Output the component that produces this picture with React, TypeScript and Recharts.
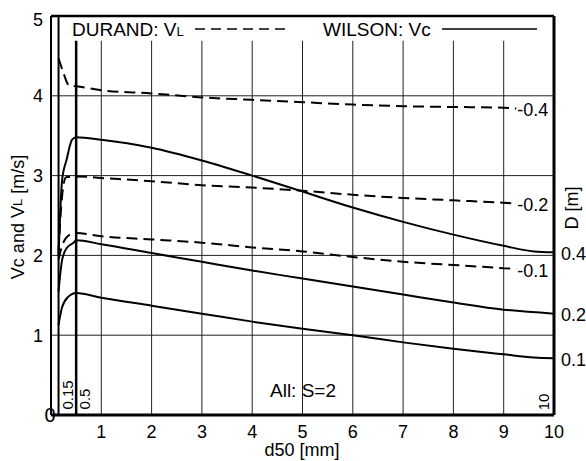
import React from "react";
import { LineChart, Line, XAxis, YAxis, ReferenceLine } from "recharts";

// ---- data ----
const xTicks = [1, 2, 3, 4, 5, 6, 7, 8, 9, 10];
const yTicks = [0, 1, 2, 3, 4, 5];
const gridX = [1, 2, 3, 4, 5, 6, 7, 8, 9];
const gridY = [1, 2, 3, 4];

// Wilson Vc (solid)
const wilsonX04 = [0.15, 0.22, 0.31, 0.42, 0.5, 1, 2, 3, 4, 5, 6, 7, 8, 9, 9.6, 10];
const wilsonY04 = [2.0, 2.94, 3.2, 3.45, 3.48, 3.45, 3.35, 3.19, 3.0, 2.8, 2.6, 2.42, 2.26, 2.12, 2.05, 2.04];
const wilsonX02 = [0.15, 0.22, 0.31, 0.45, 0.5, 1, 2, 3, 4, 5, 6, 7, 8, 9, 10];
const wilsonY02 = [1.55, 1.94, 2.09, 2.16, 2.19, 2.14, 2.03, 1.92, 1.81, 1.71, 1.61, 1.51, 1.41, 1.32, 1.27];
const wilsonX01 = [0.15, 0.22, 0.34, 0.5, 1, 2, 3, 4, 5, 6, 7, 8, 9, 9.6, 10];
const wilsonY01 = [1.13, 1.35, 1.48, 1.53, 1.47, 1.37, 1.27, 1.17, 1.08, 1.0, 0.91, 0.83, 0.76, 0.72, 0.71];

// Durand VL (dashed)
const durandX04 = [0.15, 0.24, 0.36, 0.5, 1, 2, 3, 4, 5, 6, 7, 8, 9, 9.25];
const durandY04 = [4.47, 4.3, 4.13, 4.12, 4.07, 4.03, 3.98, 3.95, 3.92, 3.89, 3.87, 3.86, 3.85, 3.84];
const durandX02 = [0.15, 0.19, 0.24, 0.3, 0.5, 1, 2, 3, 4, 5, 6, 7, 8, 9, 9.25];
const durandY02 = [2.05, 2.5, 2.85, 2.98, 2.99, 2.97, 2.93, 2.88, 2.85, 2.81, 2.76, 2.72, 2.69, 2.66, 2.65];
const durandX01 = [0.15, 0.22, 0.3, 0.42, 0.5, 1, 2, 3, 4, 5, 6, 7, 8, 9, 9.25];
const durandY01 = [1.95, 2.12, 2.22, 2.27, 2.28, 2.24, 2.2, 2.16, 2.1, 2.05, 1.98, 1.92, 1.88, 1.84, 1.83];

const diameters = ["0.4", "0.2", "0.1"];
const specialLines = [0.15, 0.5];

const toPts = (xs: number[], ys: number[]) => xs.map((x, i) => ({ x, y: ys[i] }));

const FONT = "'Liberation Sans', Arial, Helvetica, sans-serif";

const endLabel = (text: string, n: number, dx: number) => (props: any) => {
  const { x, y, index } = props;
  if (index !== n - 1) return null;
  return (
    <text x={x + dx} y={y + 3} fontSize={18} fontFamily={FONT} fill="#000" dominantBaseline="middle">
      {text}
    </text>
  );
};

const YTick = (props: any) => {
  const { x, y, payload } = props;
  let tx = x;
  let ty = y;
  let anchor = "end";
  let fs = 18;
  if (payload.value === 0) {
    tx = x + 7;
    anchor = "middle";
    fs = 20;
  }
  if (payload.value === 5) ty = y + 4;
  return (
    <text x={tx} y={ty} dy="0.355em" textAnchor={anchor} fontSize={fs} fontFamily={FONT} fill="#000">
      {payload.value}
    </text>
  );
};

const vertLabel = (text: string, dx: number, dyFromBottom: number) => (props: any) => {
  const vb = props.viewBox || {};
  const cx = vb.x + dx;
  const cy = vb.y + vb.height - dyFromBottom;
  return (
    <text
      x={cx}
      y={cy}
      transform={`rotate(-90 ${cx} ${cy})`}
      textAnchor="middle"
      dominantBaseline="middle"
      fontSize={15}
      fontFamily={FONT}
      fill="#000"
    >
      {text}
    </text>
  );
};

export default function App() {
  const wilson = [toPts(wilsonX04, wilsonY04), toPts(wilsonX02, wilsonY02), toPts(wilsonX01, wilsonY01)];
  const durand = [toPts(durandX04, durandY04), toPts(durandX02, durandY02), toPts(durandX01, durandY01)];
  const gridTop = 4.69;
  return (
    <div style={{ position: "absolute", left: 0, top: 0, width: 586, height: 461, background: "#fff" }}>
      <LineChart width={586} height={461} margin={{ top: 16, right: 32, bottom: 0, left: 0 }}>
        <XAxis
          type="number"
          dataKey="x"
          domain={[0, 10]}
          ticks={xTicks}
          allowDataOverflow
          height={46}
          tickLine={false}
          axisLine={false}
          tickMargin={4}
          tick={{ fontSize: 18, fontFamily: FONT, fill: "#000" }}
        />
        <YAxis
          type="number"
          dataKey="y"
          domain={[0, 5]}
          ticks={yTicks}
          width={51}
          allowDataOverflow
          tickLine={false}
          axisLine={false}
          tick={<YTick />}
        />
        {gridY.map((v) => (
          <ReferenceLine key={"gy" + v} y={v} stroke="#222" strokeWidth={1} />
        ))}
        {gridX.map((v) => (
          <ReferenceLine
            key={"gx" + v}
            segment={[{ x: v, y: 0 }, { x: v, y: gridTop }]}
            stroke="#222"
            strokeWidth={1}
          />
        ))}
        {/* frame */}
        <ReferenceLine y={5} stroke="#000" strokeWidth={2.5} />
        <ReferenceLine y={0} stroke="#000" strokeWidth={3} />
        <ReferenceLine x={0} stroke="#000" strokeWidth={2} />
        <ReferenceLine x={10} stroke="#000" strokeWidth={3} label={vertLabel("10", -9, 13)} />
        <ReferenceLine x={specialLines[0]} stroke="#000" strokeWidth={2} label={vertLabel("0.15", 10, 20)} />
        <ReferenceLine
          segment={[{ x: specialLines[1], y: 0 }, { x: specialLines[1], y: gridTop }]}
          stroke="#000"
          strokeWidth={2.5}
          label={vertLabel("0.5", 10, 16)}
        />
        {durand.map((d, i) => (
          <Line
            key={"d" + i}
            data={d}
            dataKey="y"
            type="monotone"
            stroke="#000"
            strokeWidth={2}
            strokeDasharray="11 6"
            dot={false}
            isAnimationActive={false}
            label={endLabel("-" + diameters[i], d.length, 1)}
          />
        ))}
        {wilson.map((d, i) => (
          <Line
            key={"w" + i}
            data={d}
            dataKey="y"
            type="monotone"
            stroke="#000"
            strokeWidth={2}
            dot={false}
            isAnimationActive={false}
            label={endLabel(diameters[i], d.length, 7)}
          />
        ))}
        {/* legend */}
        <text x={72} y={36} fontSize={19} fontFamily={FONT} fill="#000">
          DURAND: V<tspan fontSize={13}>L</tspan>
        </text>
        <line x1={195} y1={29} x2={290} y2={29} stroke="#000" strokeWidth={1.5} strokeDasharray="10 6" />
        <text x={323} y={36} fontSize={19} fontFamily={FONT} fill="#000">
          WILSON: Vc
        </text>
        <line x1={442} y1={29} x2={537} y2={29} stroke="#000" strokeWidth={1.5} />
        {/* annotations */}
        <text x={303} y={397} textAnchor="middle" fontSize={19} fontFamily={FONT} fill="#000">
          All: S=2
        </text>
        <text x={302} y={456} textAnchor="middle" fontSize={18} fontFamily={FONT} fill="#000">
          d50 [mm]
        </text>
        <text
          x={19}
          y={217}
          transform="rotate(-90 19 217)"
          textAnchor="middle"
          dominantBaseline="middle"
          fontSize={18}
          fontFamily={FONT}
          fill="#000"
        >
          Vc and V<tspan fontSize={13}>L</tspan> [m/s]
        </text>
        <text
          x={573}
          y={208}
          transform="rotate(-90 573 208)"
          textAnchor="middle"
          dominantBaseline="middle"
          fontSize={18}
          fontFamily={FONT}
          fill="#000"
        >
          D [m]
        </text>
      </LineChart>
    </div>
  );
}
